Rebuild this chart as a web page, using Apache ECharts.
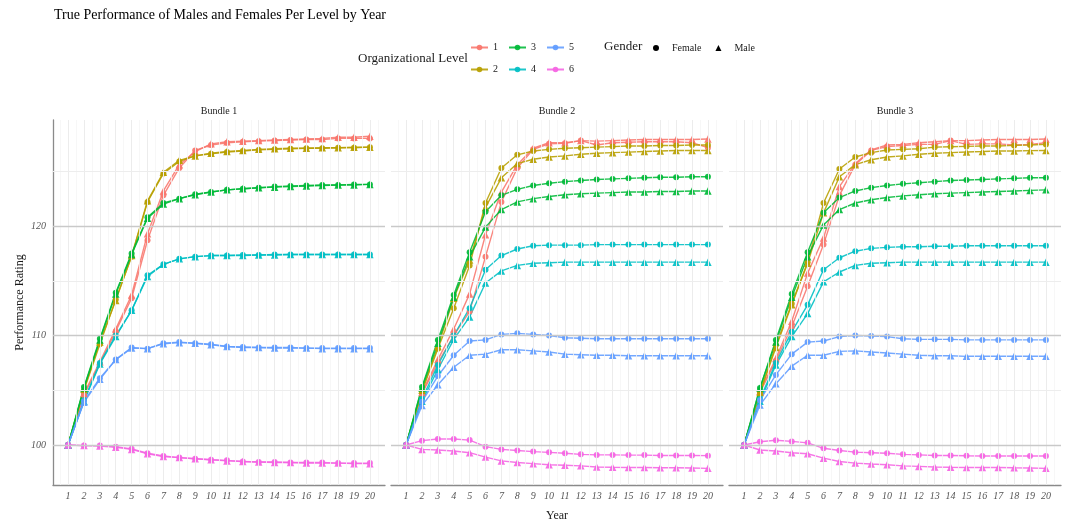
<!DOCTYPE html>
<html>
<head>
<meta charset="utf-8">
<title>True Performance of Males and Females Per Level by Year</title>
<script src="https://cdn.jsdelivr.net/npm/echarts@6/dist/echarts.min.js"></script>
<style>
  html, body { margin: 0; padding: 0; background: #ffffff; }
  #chart { width: 1068px; height: 523px; }
</style>
</head>
<body>
<div id="chart"></div>
<script>
// ---- data -------------------------------------------------------------
const years = [1, 2, 3, 4, 5, 6, 7, 8, 9, 10, 11, 12, 13, 14, 15, 16, 17, 18, 19, 20];
const levels = ['1', '2', '3', '4', '5', '6'];
const bundles = ['Bundle 1', 'Bundle 2', 'Bundle 3'];
const genders = ['Female', 'Male'];
const yTickValues = [100, 110, 120];
const yMinorValues = [105, 115, 125];

// rows = organizational level 1..6, columns = year 1..20
const bundle1Female = [
  [100, 104.6, 107.4, 110.4, 113.4, 118.7, 122.8, 125.3, 126.9, 127.4, 127.6, 127.7, 127.75, 127.8, 127.85, 127.9, 127.9, 128.0, 128.0, 128.0],
  [100, 105.0, 109.2, 113.3, 117.2, 122.2, 124.8, 125.9, 126.4, 126.6, 126.75, 126.85, 126.95, 127.0, 127.05, 127.1, 127.1, 127.15, 127.15, 127.2],
  [100, 105.3, 109.7, 113.9, 117.5, 120.8, 122.1, 122.5, 122.9, 123.1, 123.3, 123.4, 123.5, 123.6, 123.65, 123.7, 123.75, 123.75, 123.8, 123.8],
  [100, 104.1, 107.5, 110.0, 112.3, 115.5, 116.5, 117.0, 117.2, 117.3, 117.3, 117.35, 117.35, 117.4, 117.4, 117.4, 117.4, 117.4, 117.4, 117.4],
  [100, 104.0, 106.1, 107.8, 108.9, 108.8, 109.3, 109.4, 109.3, 109.2, 109.0, 108.95, 108.9, 108.9, 108.9, 108.85, 108.85, 108.85, 108.85, 108.85],
  [100, 99.95, 99.95, 99.85, 99.65, 99.25, 99.0, 98.85, 98.75, 98.65, 98.6, 98.5, 98.45, 98.45, 98.4, 98.4, 98.4, 98.35, 98.35, 98.35]
];
const bundle1Male = [
  [100, 104.7, 107.6, 110.6, 113.7, 119.3, 123.2, 125.6, 126.8, 127.5, 127.7, 127.75, 127.8, 127.85, 127.9, 127.95, 128.0, 128.1, 128.1, 128.2],
  [100, 105.1, 109.4, 113.2, 117.3, 122.3, 124.9, 126.0, 126.4, 126.65, 126.8, 126.9, 127.0, 127.05, 127.1, 127.1, 127.15, 127.15, 127.2, 127.2],
  [100, 105.2, 109.6, 113.8, 117.4, 120.7, 122.0, 122.5, 122.85, 123.1, 123.3, 123.4, 123.5, 123.55, 123.6, 123.65, 123.7, 123.75, 123.75, 123.8],
  [100, 104.0, 107.4, 109.9, 112.3, 115.4, 116.5, 117.0, 117.2, 117.3, 117.3, 117.3, 117.35, 117.35, 117.4, 117.4, 117.4, 117.4, 117.4, 117.4],
  [100, 103.9, 106.0, 107.8, 108.85, 108.8, 109.25, 109.35, 109.3, 109.15, 109.0, 108.9, 108.9, 108.85, 108.85, 108.85, 108.8, 108.8, 108.8, 108.8],
  [100, 99.95, 99.9, 99.8, 99.6, 99.2, 98.95, 98.85, 98.75, 98.65, 98.55, 98.5, 98.45, 98.4, 98.4, 98.35, 98.35, 98.35, 98.3, 98.3]
];
const bundle2Female = [
  [100, 104.7, 107.5, 110.0, 112.2, 117.2, 122.2, 125.3, 127.0, 127.5, 127.55, 127.8, 127.4, 127.6, 127.65, 127.7, 127.7, 127.7, 127.6, 127.15],
  [100, 104.9, 108.8, 112.5, 116.4, 122.1, 125.3, 126.5, 126.85, 127.0, 127.1, 127.15, 127.2, 127.25, 127.3, 127.3, 127.35, 127.35, 127.4, 127.4],
  [100, 105.3, 109.6, 113.7, 117.6, 121.3, 122.8, 123.35, 123.7, 123.9, 124.05, 124.15, 124.25, 124.3, 124.35, 124.4, 124.45, 124.45, 124.5, 124.5],
  [100, 104.2, 107.3, 110.0, 112.5, 116.0, 117.3, 117.9, 118.2, 118.25, 118.25, 118.25, 118.3, 118.3, 118.3, 118.3, 118.3, 118.3, 118.3, 118.3],
  [100, 103.96, 106.3, 108.2, 109.5, 109.6, 110.1, 110.2, 110.1, 110.0, 109.8, 109.75, 109.7, 109.7, 109.7, 109.7, 109.7, 109.7, 109.7, 109.7],
  [100, 100.4, 100.55, 100.55, 100.45, 99.85, 99.6, 99.5, 99.4, 99.33, 99.25, 99.15, 99.1, 99.1, 99.08, 99.08, 99.05, 99.05, 99.05, 99.03]
];
const bundle2Male = [
  [100, 104.8, 107.8, 110.6, 113.8, 119.2, 123.1, 125.6, 127.1, 127.6, 127.6, 127.8, 127.75, 127.8, 127.85, 127.9, 127.9, 127.9, 127.9, 127.95],
  [100, 105.0, 109.0, 113.4, 116.9, 121.7, 124.4, 125.7, 126.1, 126.3, 126.4, 126.55, 126.65, 126.7, 126.75, 126.8, 126.85, 126.9, 126.9, 126.9],
  [100, 105.2, 109.3, 113.5, 117.2, 119.9, 121.5, 122.2, 122.5, 122.7, 122.85, 122.95, 123.0, 123.05, 123.1, 123.1, 123.15, 123.15, 123.2, 123.2],
  [100, 104.0, 106.9, 109.65, 111.7, 114.8, 115.9, 116.4, 116.6, 116.65, 116.7, 116.7, 116.7, 116.7, 116.7, 116.7, 116.7, 116.7, 116.7, 116.7],
  [100, 103.6, 105.5, 107.1, 108.2, 108.3, 108.7, 108.7, 108.6, 108.5, 108.3, 108.25, 108.2, 108.2, 108.15, 108.15, 108.15, 108.15, 108.15, 108.15],
  [100, 99.6, 99.55, 99.45, 99.3, 98.9, 98.55, 98.4, 98.3, 98.2, 98.15, 98.1, 98.0, 97.97, 97.95, 97.95, 97.92, 97.92, 97.9, 97.87]
];
const bundle3Female = [
  [100, 104.8, 107.7, 110.8, 114.5, 118.3, 122.8, 125.6, 126.9, 127.25, 127.35, 127.45, 127.45, 127.8, 127.45, 127.5, 127.5, 127.4, 127.45, 127.6],
  [100, 104.8, 109.1, 112.9, 116.7, 122.1, 125.2, 126.3, 126.7, 126.94, 127.0, 127.06, 127.2, 127.24, 127.27, 127.3, 127.3, 127.36, 127.4, 127.45],
  [100, 105.2, 109.6, 113.8, 117.6, 121.2, 122.6, 123.2, 123.5, 123.7, 123.85, 123.95, 124.05, 124.15, 124.2, 124.25, 124.3, 124.35, 124.4, 124.4],
  [100, 104.2, 107.5, 110.35, 112.8, 116.0, 117.1, 117.7, 117.96, 118.05, 118.1, 118.1, 118.15, 118.15, 118.2, 118.2, 118.2, 118.2, 118.2, 118.2],
  [100, 104.1, 106.4, 108.3, 109.4, 109.5, 109.9, 110.0, 109.95, 109.9, 109.7, 109.65, 109.65, 109.65, 109.6, 109.6, 109.6, 109.6, 109.6, 109.6],
  [100, 100.3, 100.43, 100.33, 100.2, 99.7, 99.5, 99.35, 99.3, 99.25, 99.15, 99.1, 99.05, 99.05, 99.02, 99.0, 99.0, 99.0, 99.0, 99.0]
];
const bundle3Male = [
  [100, 104.9, 107.9, 111.3, 115.7, 118.9, 123.6, 125.7, 126.95, 127.4, 127.45, 127.6, 127.7, 127.8, 127.8, 127.85, 127.9, 127.9, 127.9, 127.95],
  [100, 104.8, 108.9, 112.8, 116.6, 121.2, 124.5, 125.6, 126.05, 126.3, 126.4, 126.55, 126.64, 126.7, 126.76, 126.8, 126.85, 126.85, 126.88, 126.9],
  [100, 105.2, 109.4, 113.5, 117.2, 120.1, 121.5, 122.1, 122.4, 122.6, 122.75, 122.85, 122.95, 123.0, 123.05, 123.1, 123.15, 123.2, 123.25, 123.3],
  [100, 104.0, 107.3, 109.9, 112.0, 114.9, 115.8, 116.4, 116.6, 116.65, 116.7, 116.7, 116.7, 116.7, 116.7, 116.7, 116.7, 116.7, 116.7, 116.7],
  [100, 103.65, 105.6, 107.2, 108.2, 108.2, 108.55, 108.6, 108.5, 108.4, 108.3, 108.2, 108.15, 108.15, 108.1, 108.1, 108.1, 108.1, 108.1, 108.1],
  [100, 99.55, 99.45, 99.3, 99.2, 98.8, 98.5, 98.35, 98.27, 98.2, 98.1, 98.05, 98.0, 97.97, 97.95, 97.95, 97.95, 97.92, 97.9, 97.87]
];

// ---- styling ----------------------------------------------------------
const levelColors = ['#F8766D', '#B79F00', '#00BA38', '#00BFC4', '#619CFF', '#F564E3'];
const genderSymbols = { Female: 'circle', Male: 'triangle' };
const genderSizes = { Female: 6, Male: 7.5 };
const SERIF = "'Liberation Serif', 'DejaVu Serif', serif";

const panelData = [
  [bundle1Female, bundle1Male],
  [bundle2Female, bundle2Male],
  [bundle3Female, bundle3Male]
];

const panelLeft = [53, 391, 729];
const panelWidth = 332;
const panelTop = 120;
const panelHeight = 365;

const xMinorValues = years.map(function (y) { return y - 0.5; }).concat([years[years.length - 1] + 0.5]);

const chart = echarts.init(document.getElementById('chart'), null, { renderer: 'canvas' });

const grids = [], xAxes = [], yAxes = [], series = [], graphics = [];

bundles.forEach(function (bundleName, b) {
  grids.push({
    left: panelLeft[b], top: panelTop, width: panelWidth, height: panelHeight,
    containLabel: false, outerBoundsMode: 'none'
  });
  xAxes.push({
    type: 'value', gridIndex: b, min: 0.05, max: 20.95,
    name: b === 1 ? 'Year' : '',
    nameLocation: 'middle', nameGap: 25,
    nameTextStyle: { fontFamily: SERIF, fontSize: 12, color: '#1a1a1a' },
    axisLine: { show: true, lineStyle: { color: '#8a8a8a', width: 1.3 } },
    axisTick: { show: false, customValues: years },
    axisLabel: {
      customValues: years, margin: 6,
      fontFamily: SERIF, fontStyle: 'italic', fontSize: 10, color: '#555555'
    },
    splitLine: { show: false }
  });
  yAxes.push({
    type: 'value', gridIndex: b, min: 96.35, max: 129.68,
    name: b === 0 ? 'Performance Rating' : '',
    nameLocation: 'middle', nameGap: 27, nameRotate: 90,
    nameTextStyle: { fontFamily: SERIF, fontSize: 12, color: '#1a1a1a' },
    axisLine: { show: b === 0, lineStyle: { color: '#8a8a8a', width: 1.3 } },
    axisTick: { show: false, customValues: yTickValues },
    axisLabel: {
      show: b === 0, customValues: yTickValues, margin: 7,
      fontFamily: SERIF, fontStyle: 'italic', fontSize: 10, color: '#555555'
    },
    splitLine: { show: false }
  });

  // panel gridlines
  const gridLines = [];
  xMinorValues.forEach(function (v) { gridLines.push({ xAxis: v, lineStyle: { color: '#f5f5f5', width: 0.8 } }); });
  years.forEach(function (v) { gridLines.push({ xAxis: v, lineStyle: { color: '#ececec', width: 1 } }); });
  yMinorValues.forEach(function (v) { gridLines.push({ yAxis: v, lineStyle: { color: '#ededed', width: 1 } }); });
  yTickValues.forEach(function (v) { gridLines.push({ yAxis: v, lineStyle: { color: '#c9c9c9', width: 1.4 } }); });
  series.push({
    type: 'line', name: 'grid' + b, xAxisIndex: b, yAxisIndex: b, data: [], z: 0, silent: true,
    markLine: {
      silent: true, symbol: ['none', 'none'], animation: false,
      label: { show: false }, emphasis: { disabled: true },
      lineStyle: { type: 'solid' },
      data: gridLines
    }
  });

  // strip label
  graphics.push({
    type: 'text', x: panelLeft[b] + panelWidth / 2, y: 111,
    style: { text: bundleName, textAlign: 'center', textVerticalAlign: 'middle', font: '10px ' + SERIF, fill: '#1a1a1a' }
  });

  // performance lines
  levels.forEach(function (lvl, l) {
    genders.forEach(function (g, gi) {
      const values = panelData[b][gi][l];
      series.push({
        type: 'line', name: lvl, xAxisIndex: b, yAxisIndex: b, z: 3,
        data: years.map(function (yr, i) { return [yr, values[i]]; }),
        symbol: genderSymbols[g], symbolSize: genderSizes[g],
        showAllSymbol: true,
        lineStyle: { color: levelColors[l], width: 1.4, opacity: 0.88 },
        itemStyle: { color: levelColors[l], opacity: 0.92 },
        emphasis: { disabled: true }
      });
    });
  });
});

// symbol-only entries for the gender key
genders.forEach(function (g) {
  series.push({
    type: 'line', name: g, xAxisIndex: 0, yAxisIndex: 0, data: [],
    symbol: genderSymbols[g], itemStyle: { color: '#000000' }, lineStyle: { color: '#000000' }
  });
});

// legend headings
graphics.push({
  type: 'text', x: 358, y: 59,
  style: { text: 'Organizational Level', textVerticalAlign: 'middle', font: '13px ' + SERIF, fill: '#1a1a1a' }
});
graphics.push({
  type: 'text', x: 604, y: 47,
  style: { text: 'Gender', textVerticalAlign: 'middle', font: '13px ' + SERIF, fill: '#1a1a1a' }
});

const option = {
  backgroundColor: '#ffffff',
  animation: false,
  title: {
    text: 'True Performance of Males and Females Per Level by Year',
    left: 54, top: 8, padding: 0,
    textStyle: { fontFamily: SERIF, fontSize: 14, fontWeight: 'normal', color: '#000000' }
  },
  legend: [
    {
      data: levels, orient: 'vertical', left: 470, top: 41.5, height: 40, padding: 0,
      itemWidth: 17, itemHeight: 7, itemGap: 10, selectedMode: false,
      textStyle: { fontFamily: SERIF, fontSize: 10, color: '#1a1a1a', lineHeight: 12 }
    },
    {
      data: [{ name: 'Female', icon: 'circle' }, { name: 'Male', icon: 'triangle' }],
      orient: 'horizontal', left: 653, top: 42, padding: 0,
      itemWidth: 6, itemHeight: 6, itemGap: 14, selectedMode: false,
      textStyle: { fontFamily: SERIF, fontSize: 10, color: '#1a1a1a', lineHeight: 12, padding: [0, 0, 0, 8] }
    }
  ],
  grid: grids,
  xAxis: xAxes,
  yAxis: yAxes,
  series: series,
  graphic: graphics
};

chart.setOption(option);
</script>
</body>
</html>
